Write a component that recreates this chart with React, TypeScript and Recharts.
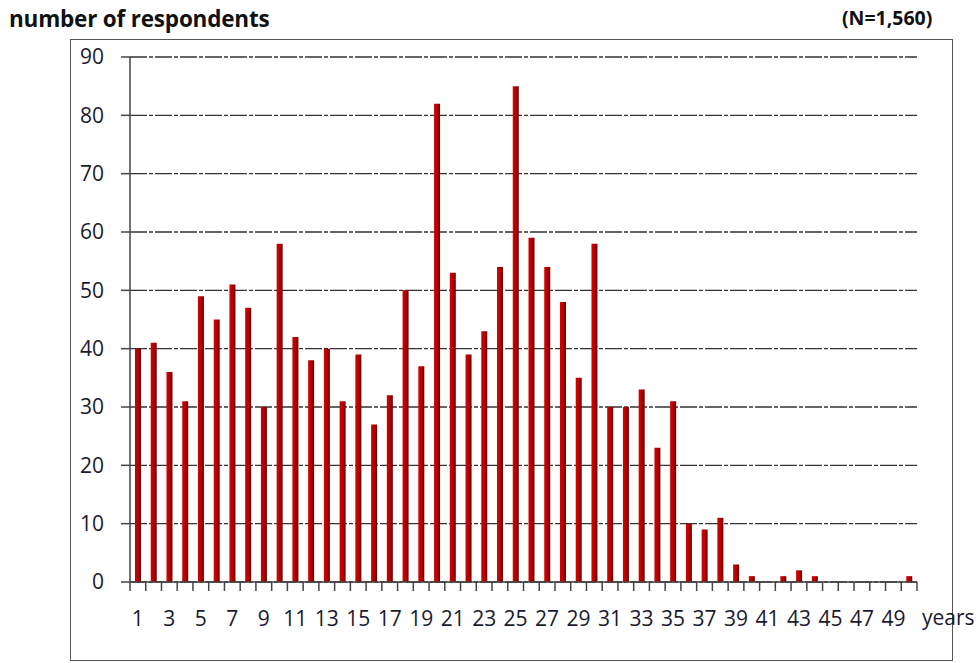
import React from "react";
import { BarChart, Bar, XAxis, YAxis, CartesianGrid } from "recharts";

const years: number[] = Array.from({ length: 50 }, (_, i) => i + 1);
const respondents: number[] = [
  40, 41, 36, 31, 49, 45, 51, 47, 30, 58,
  42, 38, 40, 31, 39, 27, 32, 50, 37, 82,
  53, 39, 43, 54, 85, 59, 54, 48, 35, 58,
  30, 30, 33, 23, 31, 10, 9, 11, 3, 1,
  0, 1, 2, 1, 0, 0, 0, 0, 0, 1,
];
const yTicks: number[] = [0, 10, 20, 30, 40, 50, 60, 70, 80, 90];

const data = years.map((y, i) => ({ year: y, count: respondents[i] }));

const FONT = "'Open Sans', 'Noto Sans', sans-serif";
const TEXT_COLOR = "#1a1a2e";
const W = 980;
const H = 663;
const M = { top: 57, right: 63, bottom: 0, left: 0 };
const Y_AXIS_W = 130;
const X_AXIS_H = 81;
const BAND = (W - M.left - M.right - Y_AXIS_W) / years.length;

const XTick = (props: any) => {
  const { x, y, payload, index } = props;
  const idx = typeof index === "number" ? index : payload.index;
  const half = BAND / 2;
  const showLabel = payload.value % 2 === 1;
  return (
    <g>
      <line x1={x - half} y1={y} x2={x - half} y2={y + 9} stroke="#444" strokeWidth={1.5} />
      {idx === years.length - 1 && (
        <line x1={x + half} y1={y} x2={x + half} y2={y + 9} stroke="#444" strokeWidth={1.5} />
      )}
      {showLabel && (
        <text x={x} y={y + 44} textAnchor="middle" fontFamily={FONT} fontSize={21} fill={TEXT_COLOR}>
          {payload.value}
        </text>
      )}
    </g>
  );
};

export default function App() {
  return (
    <div style={{ position: "absolute", left: 0, top: 0, width: W, height: H, background: "#fff" }}>
      <div
        style={{
          position: "absolute",
          left: 70,
          top: 39,
          width: 883,
          height: 622,
          border: "1.5px solid #555",
          boxSizing: "border-box",
        }}
      />
      <div
        style={{
          position: "absolute",
          left: 9,
          top: 3,
          fontFamily: FONT,
          fontWeight: 700,
          fontSize: 22.5,
          color: "#111",
          whiteSpace: "nowrap",
          letterSpacing: -0.2,
        }}
      >
        number of respondents
      </div>
      <div
        style={{
          position: "absolute",
          left: 842,
          top: 4,
          fontFamily: FONT,
          fontWeight: 700,
          fontSize: 19.5,
          color: "#111",
          whiteSpace: "nowrap",
        }}
      >
        (N=1,560)
      </div>
      <div
        style={{
          position: "absolute",
          left: 922,
          top: 603,
          fontFamily: FONT,
          fontSize: 21,
          color: TEXT_COLOR,
          whiteSpace: "nowrap",
        }}
      >
        years
      </div>
      <div style={{ position: "absolute", left: 0, top: 0 }}>
        <BarChart width={W} height={H} data={data} margin={M} barCategoryGap={0}>
          <defs>
            <linearGradient id="barGrad" x1="0" y1="0" x2="1" y2="0">
              <stop offset="0%" stopColor="#d80000" />
              <stop offset="55%" stopColor="#b00000" />
              <stop offset="100%" stopColor="#6a0000" />
            </linearGradient>
          </defs>
          <CartesianGrid
            vertical={false}
            stroke="#333"
            strokeWidth={1.3}
            strokeDasharray="17 2 4 2"
          />
          <XAxis
            dataKey="year"
            type="category"
            interval={0}
            height={X_AXIS_H}
            tickLine={false}
            tickSize={0}
            tickMargin={0}
            axisLine={{ stroke: "#444", strokeWidth: 1.5 }}
            tick={<XTick />}
          />
          <YAxis
            type="number"
            domain={[0, 90]}
            ticks={yTicks}
            interval={0}
            width={Y_AXIS_W}
            tickSize={9}
            tickMargin={17}
            tickLine={{ stroke: "#444", strokeWidth: 1.5 }}
            axisLine={{ stroke: "#444", strokeWidth: 1.5 }}
            tick={{ fontFamily: FONT, fontSize: 21, fill: TEXT_COLOR }}
          />
          <Bar dataKey="count" fill="url(#barGrad)" barSize={6} isAnimationActive={false} />
        </BarChart>
      </div>
    </div>
  );
}
